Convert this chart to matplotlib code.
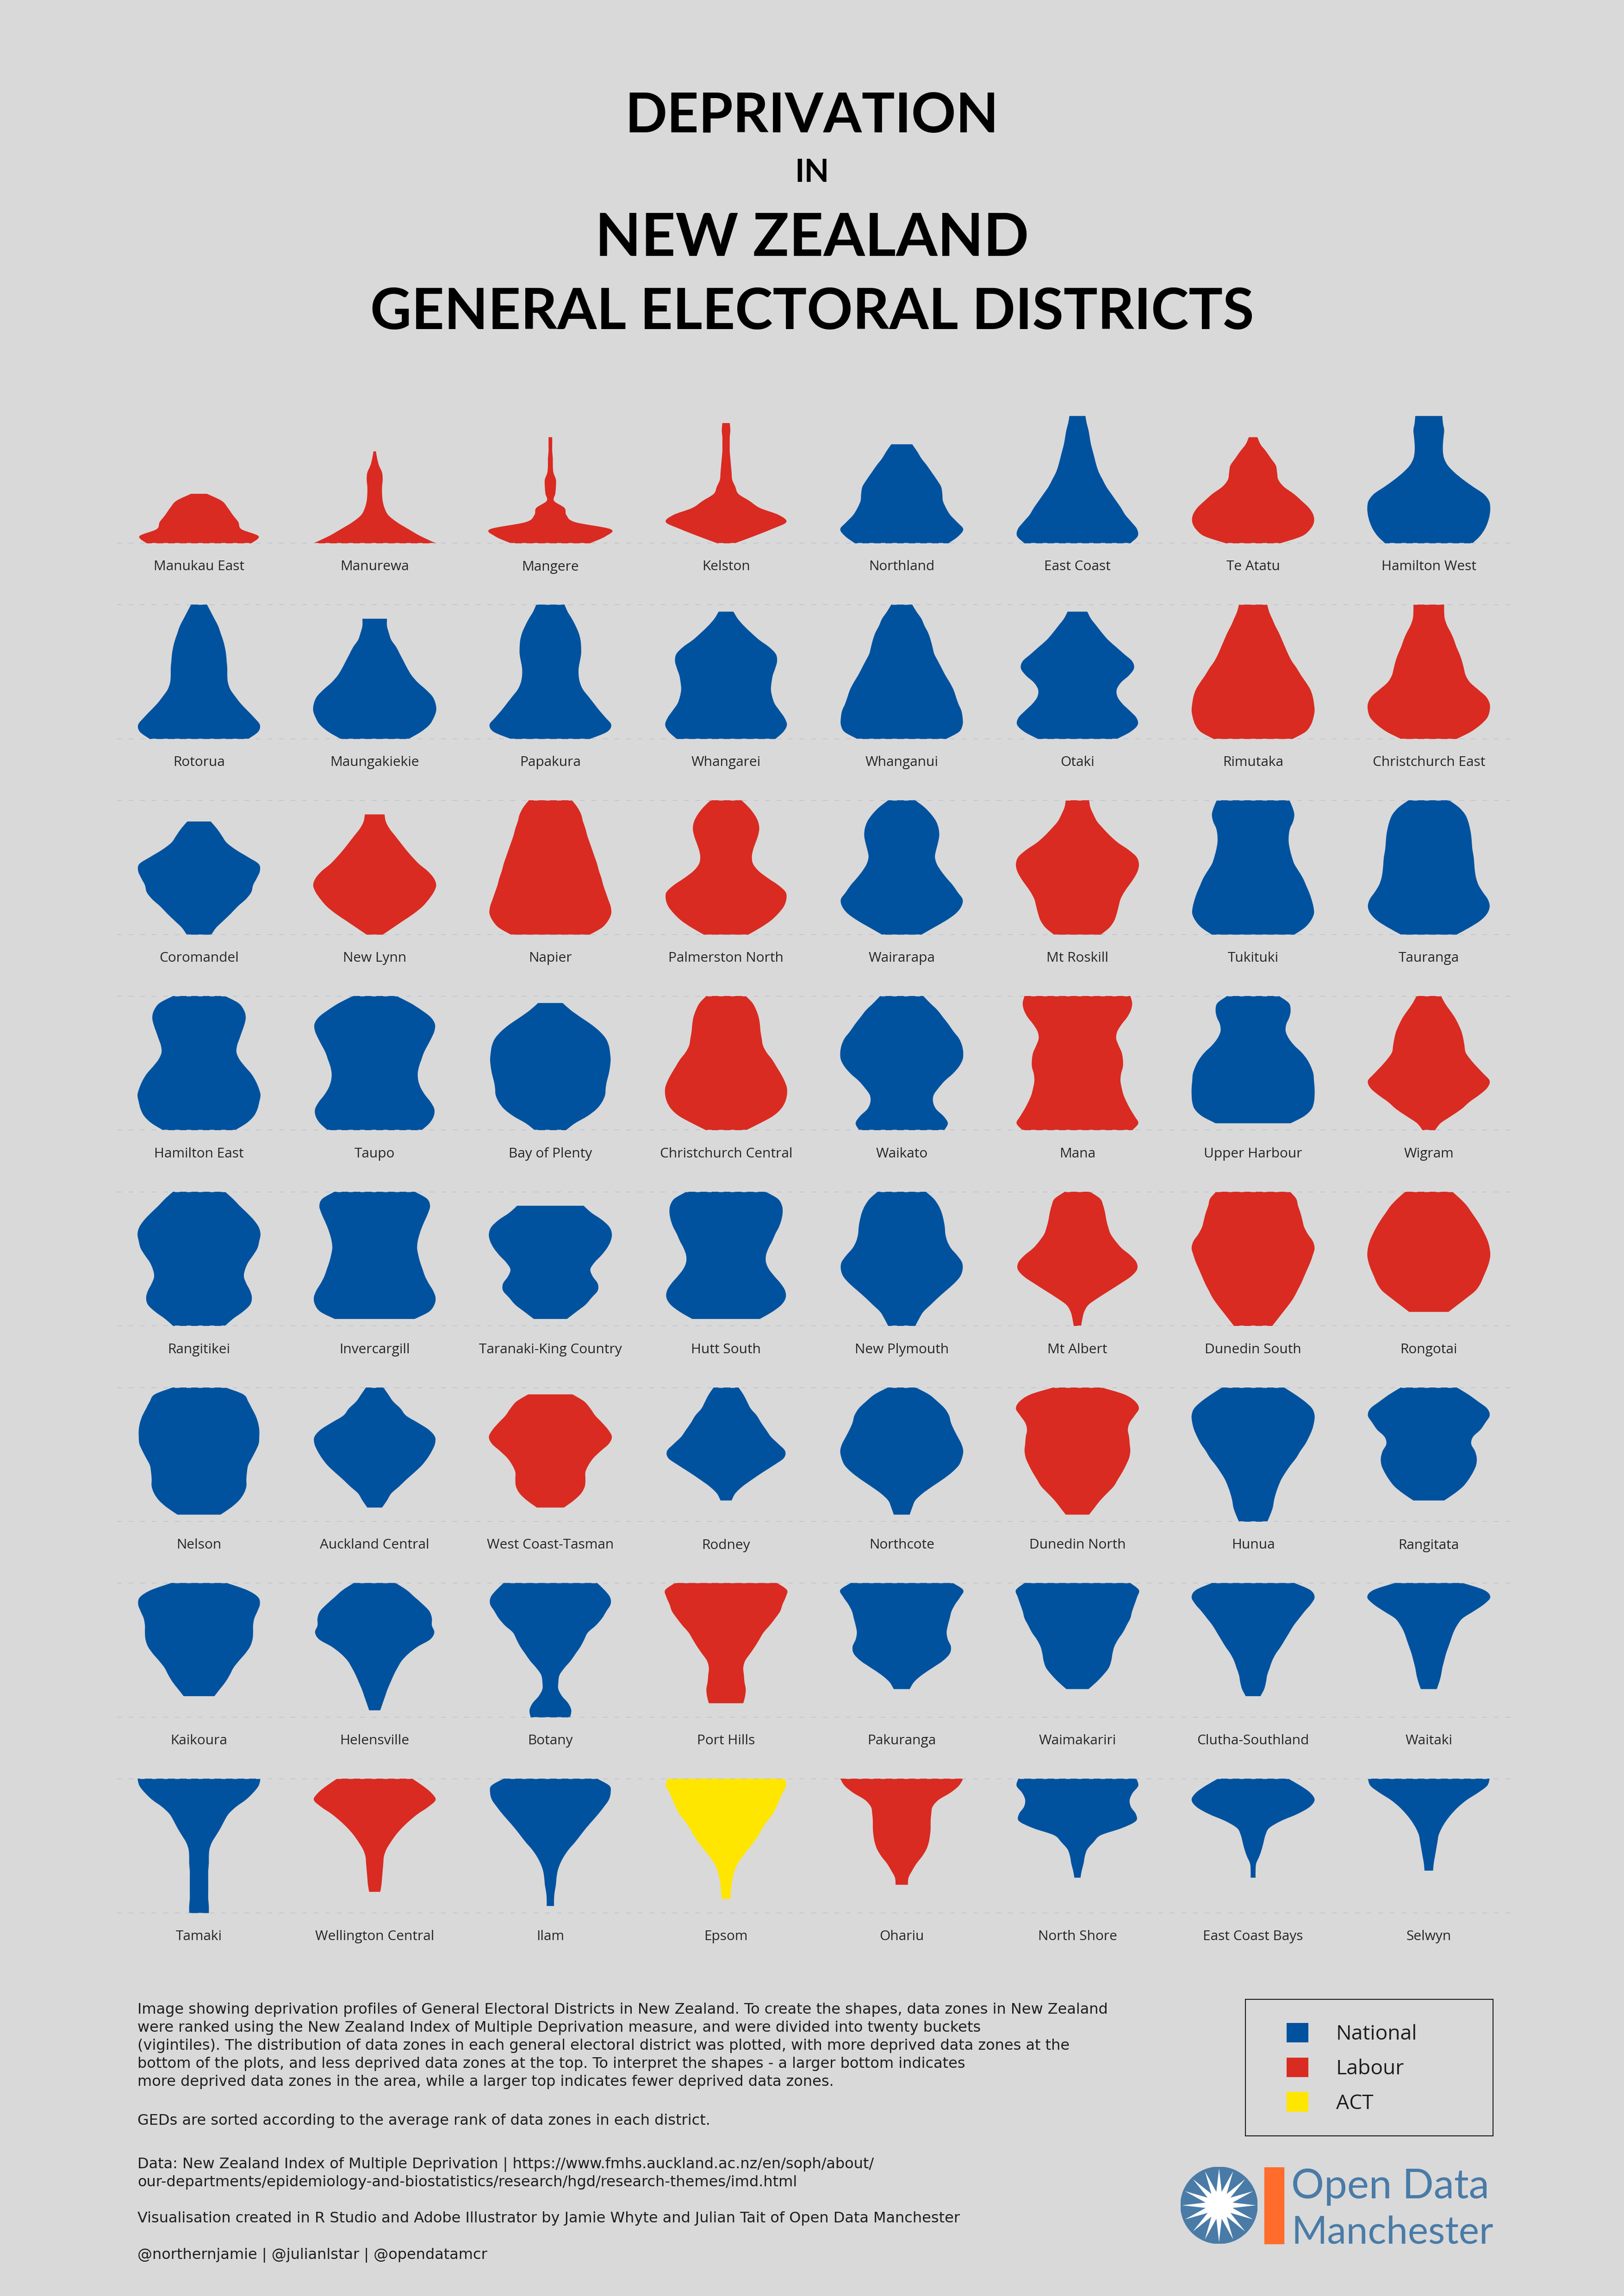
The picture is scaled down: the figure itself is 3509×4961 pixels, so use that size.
import matplotlib
matplotlib.use("Agg")
import matplotlib.pyplot as plt
from matplotlib.path import Path
from matplotlib.patches import PathPatch, Patch, Circle, Polygon, Rectangle
from matplotlib.transforms import offset_copy
import numpy as np

# ---------------------------------------------------------------- data
districts = [
    "Manukau East", "Manurewa", "Mangere", "Kelston", "Northland", "East Coast", "Te Atatu", "Hamilton West",
    "Rotorua", "Maungakiekie", "Papakura", "Whangarei", "Whanganui", "Otaki", "Rimutaka", "Christchurch East",
    "Coromandel", "New Lynn", "Napier", "Palmerston North", "Wairarapa", "Mt Roskill", "Tukituki", "Tauranga",
    "Hamilton East", "Taupo", "Bay of Plenty", "Christchurch Central", "Waikato", "Mana", "Upper Harbour", "Wigram",
    "Rangitikei", "Invercargill", "Taranaki-King Country", "Hutt South", "New Plymouth", "Mt Albert", "Dunedin South", "Rongotai",
    "Nelson", "Auckland Central", "West Coast-Tasman", "Rodney", "Northcote", "Dunedin North", "Hunua", "Rangitata",
    "Kaikoura", "Helensville", "Botany", "Port Hills", "Pakuranga", "Waimakariri", "Clutha-Southland", "Waitaki",
    "Tamaki", "Wellington Central", "Ilam", "Epsom", "Ohariu", "North Shore", "East Coast Bays", "Selwyn",
]

parties = [
    "Labour", "Labour", "Labour", "Labour", "National", "National", "Labour", "National",
    "National", "National", "National", "National", "National", "National", "Labour", "Labour",
    "National", "Labour", "Labour", "Labour", "National", "Labour", "National", "National",
    "National", "National", "National", "Labour", "National", "Labour", "National", "Labour",
    "National", "National", "National", "National", "National", "Labour", "Labour", "Labour",
    "National", "National", "Labour", "National", "National", "Labour", "National", "National",
    "National", "National", "National", "Labour", "National", "National", "National", "National",
    "National", "Labour", "National", "ACT", "Labour", "National", "National", "National",
]

# relative width of each shape at vigintiles 1 (most deprived) .. 20, 0 = no data zones
widths_row1 = [
    [0.85, 0.97, 0.69, 0.64, 0.55, 0.47, 0.37, 0.13, 0, 0, 0, 0, 0, 0, 0, 0, 0, 0, 0, 0],
    [1.0, 0.75, 0.55, 0.36, 0.22, 0.16, 0.13, 0.12, 0.12, 0.13, 0.12, 0.07, 0.04, 0.02, 0, 0, 0, 0, 0, 0],
    [0.64, 0.9, 0.98, 0.4, 0.26, 0.23, 0.06, 0.08, 0.09, 0.09, 0.05, 0.04, 0.04, 0.03, 0.03, 0.03, 0, 0, 0, 0],
    [0.14, 0.45, 0.74, 0.98, 0.86, 0.55, 0.38, 0.2, 0.15, 0.1, 0.09, 0.08, 0.07, 0.06, 0.06, 0.06, 0.07, 0.06, 0, 0],
    [0.76, 0.92, 1.0, 0.9, 0.79, 0.72, 0.67, 0.66, 0.64, 0.57, 0.49, 0.41, 0.32, 0.25, 0.17, 0, 0, 0, 0, 0],
    [0.86, 0.98, 0.97, 0.88, 0.78, 0.71, 0.63, 0.55, 0.47, 0.41, 0.35, 0.31, 0.28, 0.25, 0.22, 0.2, 0.18, 0.15, 0.13, 0],
    [0.44, 0.79, 0.93, 0.99, 0.98, 0.91, 0.79, 0.66, 0.5, 0.41, 0.39, 0.37, 0.29, 0.21, 0.12, 0.07, 0, 0, 0, 0],
    [0.71, 0.83, 0.91, 0.96, 0.99, 1.0, 0.98, 0.89, 0.72, 0.56, 0.42, 0.31, 0.25, 0.23, 0.23, 0.24, 0.25, 0.23, 0.22, 0],
]
widths_row2 = [
    [0.8, 0.96, 0.99, 0.9, 0.79, 0.68, 0.59, 0.51, 0.47, 0.46, 0.46, 0.45, 0.44, 0.42, 0.39, 0.35, 0.31, 0.25, 0.19, 0.13],
    [0.55, 0.75, 0.89, 0.96, 1.0, 0.99, 0.94, 0.83, 0.7, 0.6, 0.53, 0.47, 0.41, 0.35, 0.27, 0.23, 0.2, 0.2, 0, 0],
    [0.64, 0.92, 0.99, 0.9, 0.8, 0.71, 0.62, 0.53, 0.48, 0.46, 0.46, 0.48, 0.5, 0.5, 0.49, 0.46, 0.41, 0.35, 0.28, 0.23],
    [0.8, 0.93, 0.99, 0.95, 0.87, 0.79, 0.75, 0.73, 0.74, 0.76, 0.8, 0.83, 0.81, 0.7, 0.54, 0.41, 0.29, 0.19, 0.12, 0],
    [0.72, 0.93, 0.99, 0.99, 0.97, 0.92, 0.88, 0.84, 0.78, 0.71, 0.65, 0.59, 0.53, 0.5, 0.47, 0.43, 0.37, 0.32, 0.24, 0.17],
    [0.64, 0.86, 0.98, 0.96, 0.85, 0.73, 0.65, 0.64, 0.71, 0.84, 0.92, 0.89, 0.76, 0.63, 0.5, 0.4, 0.31, 0.22, 0.16, 0],
    [0.64, 0.85, 0.94, 0.98, 1.0, 0.99, 0.97, 0.93, 0.86, 0.78, 0.71, 0.63, 0.57, 0.52, 0.47, 0.42, 0.36, 0.31, 0.26, 0.23],
    [0.45, 0.68, 0.84, 0.95, 0.99, 0.99, 0.93, 0.8, 0.67, 0.6, 0.57, 0.54, 0.5, 0.45, 0.41, 0.36, 0.3, 0.26, 0.25, 0.25],
]
widths_row3 = [
    [0.2, 0.28, 0.4, 0.52, 0.63, 0.76, 0.85, 0.88, 0.94, 0.99, 0.97, 0.79, 0.6, 0.45, 0.37, 0.29, 0.19, 0, 0, 0],
    [0.13, 0.3, 0.47, 0.64, 0.78, 0.88, 0.96, 1.0, 0.96, 0.86, 0.72, 0.61, 0.51, 0.42, 0.33, 0.24, 0.18, 0.16, 0, 0],
    [0.64, 0.84, 0.94, 0.99, 0.98, 0.94, 0.9, 0.86, 0.83, 0.79, 0.76, 0.72, 0.68, 0.64, 0.6, 0.57, 0.53, 0.5, 0.44, 0.35],
    [0.36, 0.56, 0.73, 0.85, 0.94, 0.98, 0.97, 0.85, 0.68, 0.53, 0.44, 0.42, 0.44, 0.48, 0.52, 0.54, 0.52, 0.46, 0.37, 0.25],
    [0.32, 0.52, 0.72, 0.88, 0.97, 0.99, 0.91, 0.83, 0.73, 0.64, 0.57, 0.54, 0.56, 0.59, 0.61, 0.6, 0.56, 0.48, 0.37, 0.22],
    [0.38, 0.52, 0.6, 0.64, 0.67, 0.7, 0.76, 0.84, 0.92, 0.98, 1.0, 0.96, 0.83, 0.66, 0.53, 0.42, 0.32, 0.26, 0.21, 0.19],
    [0.67, 0.84, 0.94, 0.99, 0.98, 0.95, 0.91, 0.86, 0.81, 0.74, 0.67, 0.63, 0.6, 0.58, 0.58, 0.6, 0.65, 0.67, 0.64, 0.59],
    [0.45, 0.66, 0.84, 0.95, 0.99, 0.96, 0.88, 0.81, 0.77, 0.75, 0.74, 0.73, 0.71, 0.7, 0.69, 0.67, 0.64, 0.59, 0.49, 0.33],
]
widths_row4 = [
    [0.58, 0.77, 0.89, 0.95, 0.98, 1.0, 0.97, 0.92, 0.85, 0.75, 0.66, 0.61, 0.62, 0.66, 0.7, 0.74, 0.76, 0.73, 0.64, 0.42],
    [0.76, 0.89, 0.96, 0.97, 0.91, 0.82, 0.75, 0.71, 0.7, 0.72, 0.76, 0.8, 0.86, 0.92, 0.97, 0.98, 0.91, 0.76, 0.58, 0.35],
    [0.25, 0.4, 0.6, 0.75, 0.84, 0.89, 0.9, 0.92, 0.95, 0.97, 0.98, 0.97, 0.95, 0.9, 0.8, 0.66, 0.49, 0.33, 0.2, 0],
    [0.32, 0.55, 0.76, 0.89, 0.96, 0.99, 0.99, 0.95, 0.89, 0.82, 0.75, 0.66, 0.6, 0.58, 0.56, 0.55, 0.53, 0.49, 0.43, 0.32],
    [0.69, 0.75, 0.68, 0.56, 0.51, 0.52, 0.6, 0.7, 0.83, 0.93, 0.99, 1.0, 0.98, 0.93, 0.84, 0.76, 0.67, 0.58, 0.46, 0.35],
    [0.89, 0.99, 0.93, 0.86, 0.8, 0.75, 0.72, 0.7, 0.71, 0.74, 0.74, 0.72, 0.67, 0.63, 0.65, 0.72, 0.81, 0.87, 0.89, 0.86],
    [0, 0.61, 0.83, 0.95, 0.99, 1.0, 1.0, 0.99, 0.98, 0.94, 0.88, 0.79, 0.67, 0.58, 0.53, 0.54, 0.59, 0.61, 0.58, 0.42],
    [0.1, 0.19, 0.36, 0.53, 0.66, 0.82, 0.95, 0.99, 0.89, 0.78, 0.68, 0.6, 0.58, 0.56, 0.53, 0.48, 0.42, 0.34, 0.26, 0.2],
]
widths_row5 = [
    [0.42, 0.55, 0.71, 0.83, 0.86, 0.83, 0.77, 0.73, 0.75, 0.8, 0.88, 0.95, 0.98, 1.0, 0.97, 0.89, 0.78, 0.66, 0.55, 0.42],
    [0, 0.65, 0.88, 0.97, 0.99, 0.95, 0.88, 0.82, 0.78, 0.74, 0.71, 0.69, 0.7, 0.73, 0.77, 0.82, 0.87, 0.9, 0.85, 0.65],
    [0, 0.27, 0.42, 0.57, 0.67, 0.77, 0.77, 0.69, 0.65, 0.72, 0.83, 0.92, 0.98, 1.0, 0.96, 0.84, 0.67, 0.54, 0, 0],
    [0, 0.55, 0.75, 0.9, 0.97, 0.96, 0.89, 0.79, 0.7, 0.65, 0.65, 0.69, 0.75, 0.8, 0.86, 0.9, 0.92, 0.91, 0.84, 0.64],
    [0.22, 0.28, 0.35, 0.47, 0.59, 0.72, 0.85, 0.95, 0.99, 0.98, 0.9, 0.8, 0.74, 0.71, 0.7, 0.68, 0.65, 0.6, 0.52, 0.39],
    [0.06, 0.08, 0.11, 0.18, 0.34, 0.52, 0.7, 0.87, 0.97, 0.96, 0.86, 0.72, 0.62, 0.54, 0.5, 0.47, 0.45, 0.42, 0.37, 0.2],
    [0.31, 0.4, 0.49, 0.58, 0.66, 0.72, 0.78, 0.83, 0.88, 0.93, 0.97, 1.0, 0.97, 0.89, 0.83, 0.8, 0.77, 0.73, 0.7, 0.6],
    [0, 0, 0.32, 0.47, 0.62, 0.76, 0.84, 0.89, 0.94, 0.98, 1.0, 0.99, 0.96, 0.91, 0.85, 0.78, 0.7, 0.62, 0.51, 0.38],
]
widths_row6 = [
    [0, 0.35, 0.52, 0.65, 0.73, 0.77, 0.77, 0.78, 0.8, 0.86, 0.92, 0.97, 0.98, 0.98, 0.96, 0.92, 0.86, 0.8, 0.72, 0.42],
    [0, 0, 0.12, 0.2, 0.27, 0.4, 0.52, 0.65, 0.77, 0.86, 0.93, 0.98, 0.98, 0.88, 0.7, 0.51, 0.42, 0.3, 0.22, 0.14],
    [0, 0, 0.22, 0.38, 0.5, 0.56, 0.57, 0.57, 0.62, 0.7, 0.82, 0.95, 1.0, 0.94, 0.84, 0.73, 0.65, 0.55, 0.36, 0],
    [0, 0, 0, 0.09, 0.15, 0.27, 0.43, 0.6, 0.78, 0.94, 0.96, 0.85, 0.73, 0.65, 0.57, 0.5, 0.4, 0.34, 0.28, 0.2],
    [0, 0.13, 0.17, 0.22, 0.34, 0.5, 0.67, 0.82, 0.93, 0.98, 1.0, 0.97, 0.91, 0.85, 0.8, 0.77, 0.7, 0.58, 0.44, 0.22],
    [0, 0.19, 0.28, 0.37, 0.48, 0.59, 0.66, 0.73, 0.79, 0.84, 0.86, 0.85, 0.84, 0.82, 0.85, 0.93, 1.0, 0.94, 0.76, 0.38],
    [0.23, 0.28, 0.32, 0.34, 0.37, 0.41, 0.46, 0.53, 0.61, 0.7, 0.77, 0.85, 0.91, 0.96, 0.99, 1.0, 0.96, 0.84, 0.68, 0.5],
    [0, 0, 0, 0.25, 0.42, 0.56, 0.65, 0.72, 0.77, 0.78, 0.75, 0.69, 0.72, 0.84, 0.92, 0.99, 0.95, 0.8, 0.64, 0.45],
]
widths_row7 = [
    [0, 0, 0, 0.25, 0.34, 0.43, 0.5, 0.56, 0.65, 0.75, 0.83, 0.87, 0.88, 0.88, 0.9, 0.95, 0.99, 0.96, 0.78, 0.45],
    [0, 0.09, 0.13, 0.17, 0.21, 0.26, 0.31, 0.37, 0.44, 0.55, 0.7, 0.9, 0.97, 0.93, 0.93, 0.89, 0.78, 0.65, 0.52, 0.34],
    [0.32, 0.34, 0.29, 0.19, 0.13, 0.13, 0.15, 0.23, 0.33, 0.41, 0.49, 0.55, 0.61, 0.74, 0.84, 0.91, 0.98, 0.97, 0.88, 0.76],
    [0, 0, 0.28, 0.31, 0.32, 0.3, 0.29, 0.28, 0.31, 0.39, 0.47, 0.54, 0.61, 0.71, 0.8, 0.88, 0.92, 0.97, 0.99, 0.83],
    [0, 0, 0, 0, 0.13, 0.2, 0.33, 0.5, 0.67, 0.78, 0.8, 0.75, 0.73, 0.75, 0.78, 0.81, 0.87, 0.95, 1.0, 0.83],
    [0, 0, 0, 0, 0.18, 0.31, 0.42, 0.51, 0.55, 0.57, 0.6, 0.66, 0.74, 0.8, 0.86, 0.89, 0.93, 0.97, 1.0, 0.86],
    [0, 0, 0, 0.12, 0.18, 0.21, 0.23, 0.27, 0.31, 0.37, 0.45, 0.52, 0.59, 0.66, 0.75, 0.84, 0.94, 1.0, 0.93, 0.67],
    [0, 0, 0, 0, 0.13, 0.17, 0.2, 0.22, 0.25, 0.28, 0.32, 0.36, 0.4, 0.46, 0.55, 0.73, 0.9, 1.0, 0.9, 0.55],
]
widths_row8 = [
    [0.16, 0.16, 0.15, 0.15, 0.15, 0.15, 0.15, 0.16, 0.16, 0.17, 0.21, 0.28, 0.35, 0.41, 0.48, 0.6, 0.76, 0.88, 0.97, 1.0],
    [0, 0, 0, 0.09, 0.11, 0.12, 0.13, 0.14, 0.15, 0.19, 0.26, 0.34, 0.44, 0.56, 0.7, 0.87, 0.99, 0.92, 0.78, 0.61],
    [0, 0.06, 0.06, 0.07, 0.09, 0.1, 0.12, 0.16, 0.22, 0.3, 0.4, 0.49, 0.58, 0.68, 0.78, 0.87, 0.95, 0.98, 0.96, 0.76],
    [0, 0, 0.07, 0.08, 0.09, 0.11, 0.14, 0.19, 0.27, 0.36, 0.45, 0.53, 0.59, 0.67, 0.76, 0.82, 0.87, 0.92, 0.98, 0.95],
    [0, 0, 0, 0, 0.1, 0.11, 0.17, 0.24, 0.33, 0.4, 0.44, 0.46, 0.47, 0.47, 0.48, 0.5, 0.6, 0.79, 0.93, 1.0],
    [0, 0, 0, 0, 0, 0.05, 0.07, 0.1, 0.12, 0.16, 0.26, 0.38, 0.72, 0.95, 0.95, 0.87, 0.85, 0.9, 0.99, 0.96],
    [0, 0, 0, 0, 0, 0.04, 0.04, 0.05, 0.1, 0.14, 0.17, 0.2, 0.26, 0.45, 0.72, 0.92, 1.0, 0.93, 0.77, 0.57],
    [0, 0, 0, 0, 0, 0, 0.07, 0.08, 0.1, 0.12, 0.14, 0.16, 0.21, 0.28, 0.37, 0.48, 0.62, 0.8, 0.95, 0.99],
]
rows = [widths_row1, widths_row2, widths_row3, widths_row4,
        widths_row5, widths_row6, widths_row7, widths_row8]

party_colors = {"National": "#00529f", "Labour": "#d92b21", "ACT": "#ffe600"}

notes = [
    "Image showing deprivation profiles of General Electoral Districts in New Zealand. To create the shapes, data zones in New Zealand",
    "were ranked using the New Zealand Index of Multiple Deprivation measure, and were divided into twenty buckets",
    "(vigintiles). The distribution of data zones in each general electoral district was plotted, with more deprived data zones at the",
    "bottom of the plots, and less deprived data zones at the top. To interpret the shapes - a larger bottom indicates",
    "more deprived data zones in the area, while a larger top indicates fewer deprived data zones.",
    "GEDs are sorted according to the average rank of data zones in each district.",
    "Data: New Zealand Index of Multiple Deprivation | https://www.fmhs.auckland.ac.nz/en/soph/about/",
    "our-departments/epidemiology-and-biostatistics/research/hgd/research-themes/imd.html",
    "Visualisation created in R Studio and Adobe Illustrator by Jamie Whyte and Julian Tait of Open Data Manchester",
    "@northernjamie | @julianlstar | @opendatamcr",
]
note_baselines = [4351, 4390, 4429, 4468, 4507, 4591, 4685, 4724, 4802, 4881]

# ---------------------------------------------------------------- layout
BG = "#d9d9d9"
W, H = 3509, 4961
SANS = ["Open Sans", "DejaVu Sans"]
NOTE = ["DejaVu Sans"]
TITLE = ["Lato", "DejaVu Sans"]


def fx(px):
    return px / W


def fy(py):
    return 1 - py / H


def spline(pts):
    # Catmull-Rom through the points, as cubic bezier segments
    verts, codes = [], []
    n = len(pts)
    for i in range(n - 1):
        p0 = pts[max(i - 1, 0)]
        p1 = pts[i]
        p2 = pts[i + 1]
        p3 = pts[min(i + 2, n - 1)]
        verts += [p1 + (p2 - p0) / 6, p2 - (p3 - p1) / 6, p2]
        codes += [Path.CURVE4] * 3
    return verts, codes


def violin_path(xc, prof, half=0.35):
    prof = np.asarray(prof, float)
    idx = np.nonzero(prof)[0]
    y = idx + 1.0
    w = prof[idx] * half
    right = np.column_stack([xc + w, y])
    left = np.column_stack([xc - w, y])[::-1]
    verts = [left[-1], right[0]]
    codes = [Path.MOVETO, Path.LINETO]
    v, c = spline(right)
    verts += v
    codes += c
    verts.append(left[0])
    codes.append(Path.LINETO)
    v, c = spline(left)
    verts += v
    codes += c
    verts.append(left[-1])
    codes.append(Path.CLOSEPOLY)
    return Path(np.array(verts), codes)


fig = plt.figure(figsize=(W / 100, H / 100), dpi=100, facecolor=BG)

# title
fig.text(0.5, fy(286), "DEPRIVATION", ha="center", va="baseline",
         fontsize=86, family=TITLE, weight="bold", color="black")
fig.text(0.5, fy(393), "IN", ha="center", va="baseline",
         fontsize=50, family=TITLE, weight="bold", color="black")
fig.text(0.5, fy(553), "NEW ZEALAND", ha="center", va="baseline",
         fontsize=93, family=TITLE, weight="bold", color="black")
fig.text(0.5, fy(711), "GENERAL ELECTORAL DISTRICTS", ha="center", va="baseline",
         fontsize=88.5, family=TITLE, weight="bold", color="black")

# violin rows
x_left, x_right = 253, 3265
col0, col_step = 430, 379.6
band_h = 290.5
for r, row in enumerate(rows):
    top = 883.5 + 422.8 * r
    bottom = top + band_h
    ax = fig.add_axes([fx(x_left), fy(bottom), (x_right - x_left) / W, band_h / H])
    ax.set_xlim((x_left - col0) / col_step, (x_right - col0) / col_step)
    ax.set_ylim(1, 20)
    ax.axis("off")
    for yl in (1, 20):
        ax.axhline(yl, color="#b4b8cb", lw=1.5, linestyle=(0, (4.8, 7.2)), zorder=3)
    lab_tr = offset_copy(ax.transData, fig=fig, y=-51, units="dots")
    for c, prof in enumerate(row):
        k = r * 8 + c
        patch = PathPatch(violin_path(c, prof), facecolor=party_colors[parties[k]],
                          edgecolor="none", zorder=2)
        ax.add_patch(patch)
        ax.text(c, 1, districts[k], transform=lab_tr, ha="center", va="center",
                fontsize=21.5, family=SANS, color="#262626", clip_on=False)

# notes
for line, yb in zip(notes, note_baselines):
    fig.text(fx(297), fy(yb), line, ha="left", va="baseline",
             fontsize=23, family=NOTE, color="#1e1e1e")

# legend box
lax = fig.add_axes([fx(2691), fy(4615), (3226 - 2691) / W, (4615 - 4320) / H])
lax.set_xticks([])
lax.set_yticks([])
lax.set_facecolor("none")
for s in lax.spines.values():
    s.set_color("#1a1a1a")
    s.set_linewidth(1.5)
handles = [Patch(facecolor=party_colors[p], edgecolor="none", label=p)
           for p in ["National", "Labour", "ACT"]]
lax.legend(handles=handles, loc="upper left",
           bbox_to_anchor=((2780 - 2691) / 535, 1 - (4371 - 4320) / 295),
           frameon=False, prop={"family": SANS, "size": 32},
           handlelength=1.06, handleheight=1.08, labelspacing=0.62,
           handletextpad=1.35, borderpad=0, borderaxespad=0, labelcolor="#1e1e1e")

# Open Data Manchester logo
logo = fig.add_axes([fx(2551), fy(4848), 166 / W, 166 / H])
logo.set_xlim(-1, 1)
logo.set_ylim(-1, 1)
logo.set_aspect("equal")
logo.axis("off")
logo.add_patch(Circle((0, 0), 1, color="#4a7ba7"))
for i in range(16):
    a = np.pi / 2 + i * np.pi / 8
    tip = (0.96 * np.cos(a), 0.96 * np.sin(a))
    b1 = (0.11 * np.cos(a + np.pi / 2), 0.11 * np.sin(a + np.pi / 2))
    b2 = (0.11 * np.cos(a - np.pi / 2), 0.11 * np.sin(a - np.pi / 2))
    logo.add_patch(Polygon([tip, b1, b2], closed=True, color="white", lw=0))
logo.add_patch(Circle((0, 0), 0.14, color="white"))

fig.patches.append(Rectangle((fx(2732), fy(4848)), (2774 - 2732) / W, (4848 - 4683) / H,
                             transform=fig.transFigure, color="#ff6c2c"))
fig.text(fx(2790), fy(4750), "Open Data", ha="left", va="baseline",
         fontsize=64, family=TITLE, weight="normal", color="#4a7ba7")
fig.text(fx(2790), fy(4848), "Manchester", ha="left", va="baseline",
         fontsize=60, family=TITLE, weight="normal", color="#4a7ba7")

fig.savefig("out.png", dpi=100, facecolor=BG)
